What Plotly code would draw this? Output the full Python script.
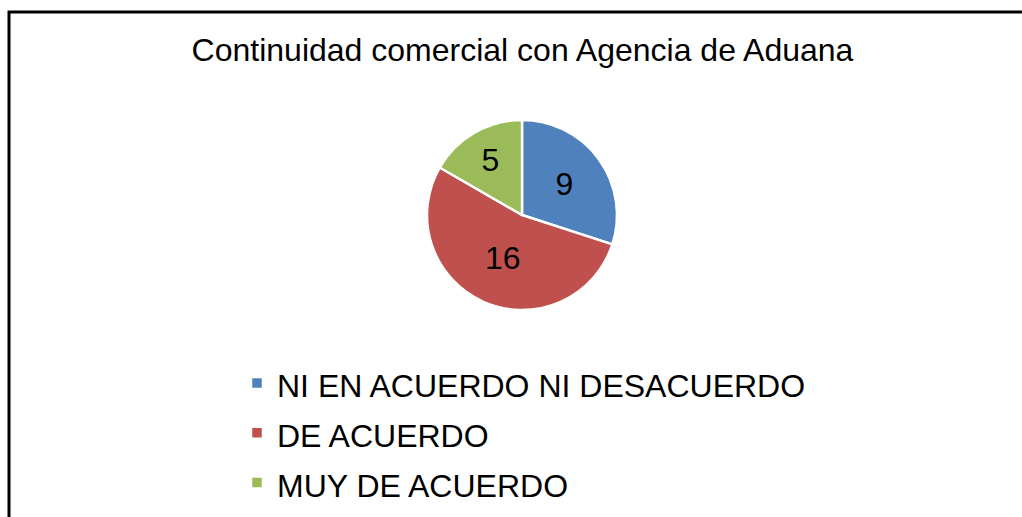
import plotly.graph_objects as go

# Survey answers and their counts
categories = ["NI EN ACUERDO NI DESACUERDO", "DE ACUERDO", "MUY DE ACUERDO"]
counts = [9, 16, 5]
colors = ["#4F81BD", "#C0504D", "#9BBB59"]
title_text = "Continuidad comercial con Agencia de Aduana"

W, H = 1022, 517
FONT = "Liberation Sans, Arial, sans-serif"

# Legend rows are spaced by the legend font size; the visible text is set smaller
legend_labels = [f'<span style="font-size:32px">{c}</span>' for c in categories]

fig = go.Figure(
    go.Pie(
        labels=legend_labels,
        values=counts,
        sort=False,
        direction="clockwise",
        rotation=0,
        marker=dict(colors=colors, line=dict(color="white", width=2.5)),
        texttemplate="%{value}",
        textposition="inside",
        insidetextorientation="horizontal",
        insidetextfont=dict(size=32, color="black", family=FONT),
        hovertemplate="%{label}: %{value}<extra></extra>",
        domain=dict(x=[427 / W, 617 / W], y=[1 - 310 / H, 1 - 120 / H]),
    )
)

fig.update_layout(
    width=W,
    height=H,
    margin=dict(l=0, r=0, t=0, b=0),
    paper_bgcolor="white",
    plot_bgcolor="white",
    font=dict(family=FONT, color="black"),
    title=dict(
        text=title_text,
        x=522.5 / W,
        xanchor="center",
        y=1 - 50 / H,
        yanchor="middle",
        font=dict(size=32, color="black", family=FONT),
    ),
    showlegend=True,
    legend=dict(
        x=237 / W,
        xanchor="left",
        y=1 - 353 / H,
        yanchor="top",
        font=dict(size=36, color="black", family=FONT),
        bgcolor="rgba(0,0,0,0)",
    ),
    shapes=[
        dict(
            type="rect",
            xref="paper",
            yref="paper",
            x0=9 / W,
            x1=1.05,
            y0=-0.05,
            y1=1 - 12 / H,
            line=dict(color="black", width=3),
            fillcolor="rgba(0,0,0,0)",
        )
    ],
)

fig.write_html("out.html")
